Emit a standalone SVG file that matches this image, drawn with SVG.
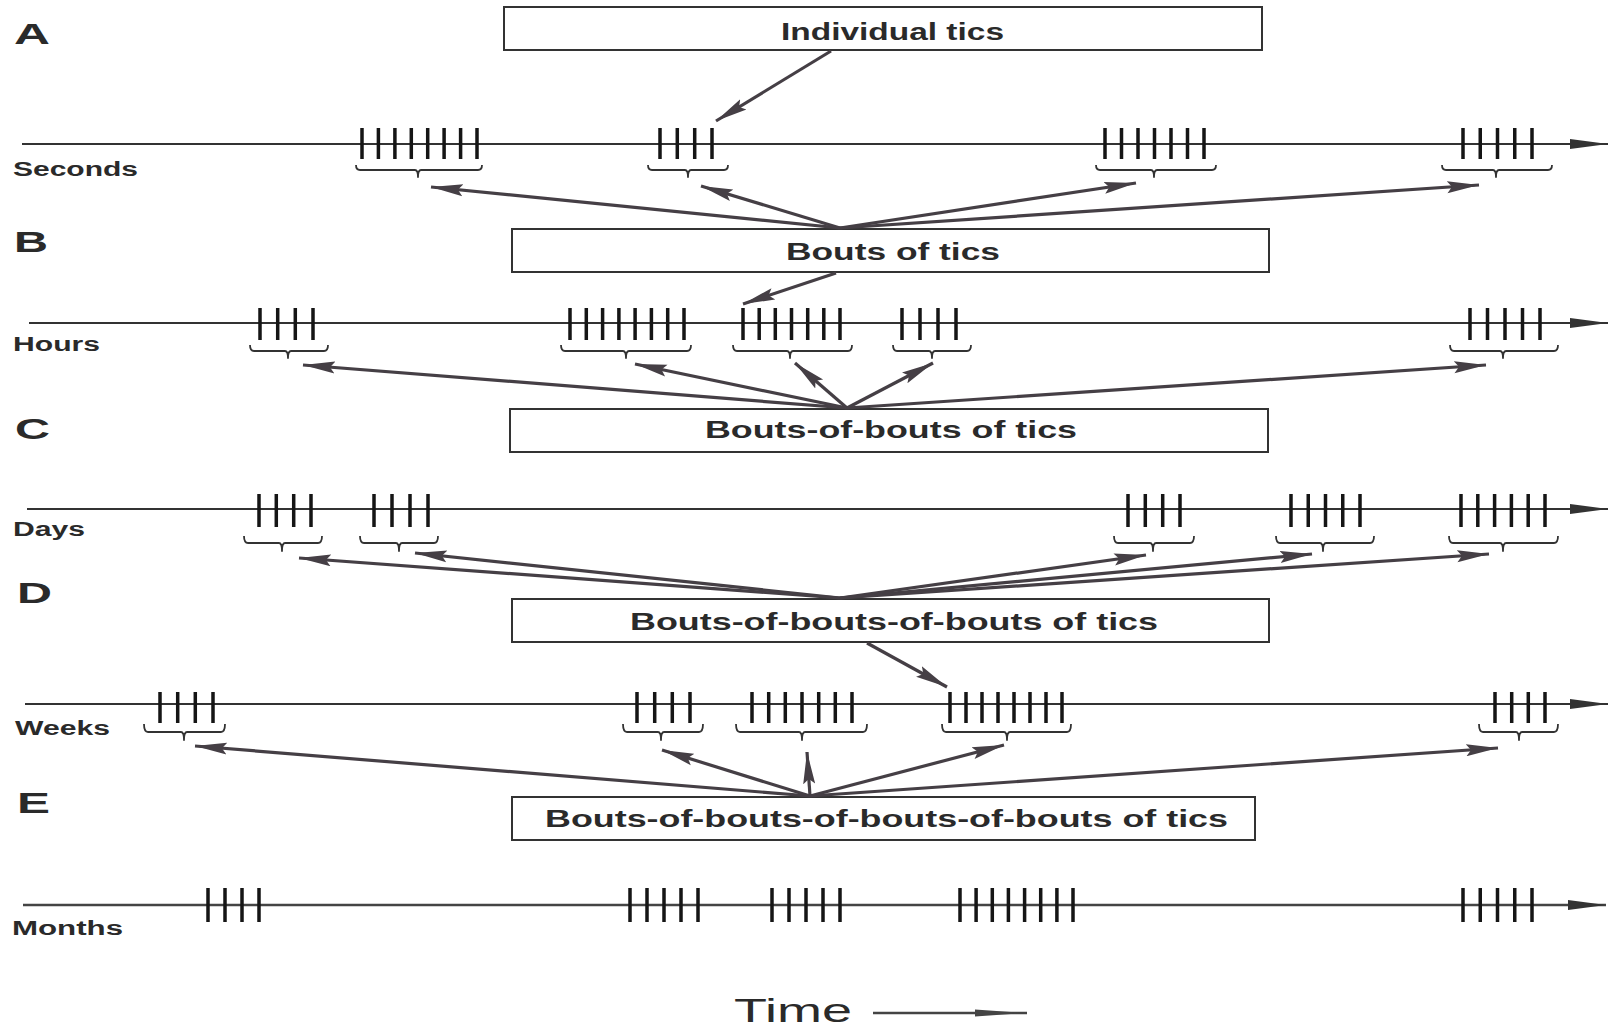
<svg xmlns="http://www.w3.org/2000/svg" width="1610" height="1031" viewBox="0 0 1610 1031">
<style>
.bg{fill:#ffffff}
.box{fill:#ffffff;stroke:#333;stroke-width:2}
.lbl{font-family:"Liberation Sans",Arial,sans-serif;font-weight:bold;fill:#2a2a2a}
.big{font-size:29px}
.ax{font-size:20px}
.bt{font-size:23px}
.axis{stroke:#333;stroke-width:2;fill:none}
.tic{stroke:#151515;stroke-width:3.5;fill:none}
.brace{stroke:#333;stroke-width:1.8;fill:none;stroke-linejoin:round}
.con{stroke:#453f45;stroke-width:3.2;fill:none;marker-end:url(#ah)}
</style>
<defs>
<marker id="ah" markerUnits="userSpaceOnUse" markerWidth="34" markerHeight="14" refX="32" refY="7" orient="auto">
<path d="M0,1 L32,7 L0,13 L5,7 Z" fill="#453f45"/>
</marker>
<marker id="axh" markerUnits="userSpaceOnUse" markerWidth="40" markerHeight="12" refX="38" refY="6" orient="auto">
<path d="M0,1 L38,6 L0,11 Z" fill="#333"/>
</marker>
<marker id="th" markerUnits="userSpaceOnUse" markerWidth="54" markerHeight="10" refX="52" refY="5" orient="auto">
<path d="M0,1.5 L52,5 L0,8.5 Z" fill="#444"/>
</marker>
</defs>
<rect class="bg" x="0" y="0" width="1610" height="1031"/>

<g id="panel-letters">
<text class="lbl big" x="14" y="44" textLength="36" lengthAdjust="spacingAndGlyphs">A</text>
<text class="lbl big" x="14" y="252" textLength="34" lengthAdjust="spacingAndGlyphs">B</text>
<text class="lbl big" x="15" y="439" textLength="35" lengthAdjust="spacingAndGlyphs">C</text>
<text class="lbl big" x="17" y="603" textLength="35" lengthAdjust="spacingAndGlyphs">D</text>
<text class="lbl big" x="17" y="813" textLength="33" lengthAdjust="spacingAndGlyphs">E</text>
</g>

<g id="node-individual">
<rect class="box" x="504" y="7" width="758" height="43"/>
<text class="lbl bt" x="781" y="40" textLength="223" lengthAdjust="spacingAndGlyphs">Individual tics</text>
</g>
<g id="node-bouts">
<rect class="box" x="512" y="229" width="757" height="43"/>
<text class="lbl bt" x="786" y="260" textLength="214" lengthAdjust="spacingAndGlyphs">Bouts of tics</text>
</g>
<g id="node-bouts2">
<rect class="box" x="510" y="409" width="758" height="43"/>
<text class="lbl bt" x="705" y="438" textLength="372" lengthAdjust="spacingAndGlyphs">Bouts-of-bouts of tics</text>
</g>
<g id="node-bouts3">
<rect class="box" x="512" y="599" width="757" height="43"/>
<text class="lbl bt" x="630" y="630" textLength="528" lengthAdjust="spacingAndGlyphs">Bouts-of-bouts-of-bouts of tics</text>
</g>
<g id="node-bouts4">
<rect class="box" x="512" y="797" width="743" height="43"/>
<text class="lbl bt" x="545" y="827" textLength="683" lengthAdjust="spacingAndGlyphs">Bouts-of-bouts-of-bouts-of-bouts of tics</text>
</g>

<g id="axis-seconds">
<line class="axis" x1="22" y1="144" x2="1608" y2="144" marker-end="url(#axh)"/>
<text class="lbl ax" x="13" y="176" textLength="125" lengthAdjust="spacingAndGlyphs">Seconds</text>
<path class="tic" d="M362,128v31M378.4,128v31M394.9,128v31M411.3,128v31M427.7,128v31M444.1,128v31M460.6,128v31M477,128v31
M660,128v31M677.3,128v31M694.7,128v31M712,128v31
M1105,128v31M1121.5,128v31M1138,128v31M1154.5,128v31M1171,128v31M1187.5,128v31M1204,128v31
M1463,128v31M1480.25,128v31M1497.5,128v31M1514.75,128v31M1532,128v31"/>
<path class="brace" d="M356,165Q356,170 360,170L415,170Q418,170 418,177Q418,170 421,170L478,170Q482,170 482,165
M648,165Q648,170 652,170L685,170Q688,170 688,177Q688,170 691,170L724,170Q728,170 728,165
M1096,165Q1096,170 1100,170L1151,170Q1154,170 1154,177Q1154,170 1157,170L1212,170Q1216,170 1216,165
M1442,165Q1442,170 1446,170L1493,170Q1496,170 1496,177Q1496,170 1499,170L1548,170Q1552,170 1552,165"/>
</g>

<g id="axis-hours">
<line class="axis" x1="29" y1="323" x2="1608" y2="323" marker-end="url(#axh)"/>
<text class="lbl ax" x="13" y="351" textLength="87" lengthAdjust="spacingAndGlyphs">Hours</text>
<path class="tic" d="M260,308v32M277.7,308v32M295.3,308v32M313,308v32
M570,308v32M586.3,308v32M602.6,308v32M618.9,308v32M635.1,308v32M651.4,308v32M667.7,308v32M684,308v32
M743,308v32M759.2,308v32M775.3,308v32M791.5,308v32M807.7,308v32M823.8,308v32M840,308v32
M902,308v32M920,308v32M938,308v32M956,308v32
M1470,308v32M1487.5,308v32M1505,308v32M1522.5,308v32M1540,308v32"/>
<path class="brace" d="M250,345Q250,351 254,351L285,351Q288,351 288,358Q288,351 291,351L324,351Q328,351 328,345
M561,345Q561,351 565,351L623,351Q626,351 626,358Q626,351 629,351L687,351Q691,351 691,345
M733,345Q733,351 737,351L787,351Q790,351 790,358Q790,351 793,351L848,351Q852,351 852,345
M893,345Q893,351 897,351L929,351Q932,351 932,358Q932,351 935,351L967,351Q971,351 971,345
M1450,345Q1450,351 1454,351L1500,351Q1503,351 1503,358Q1503,351 1506,351L1554,351Q1558,351 1558,345"/>
</g>

<g id="axis-days">
<line class="axis" x1="27" y1="509" x2="1608" y2="509" marker-end="url(#axh)"/>
<text class="lbl ax" x="13" y="536" textLength="72" lengthAdjust="spacingAndGlyphs">Days</text>
<path class="tic" d="M259,494v33M276.3,494v33M293.7,494v33M311,494v33
M374,494v33M392,494v33M410,494v33M428,494v33
M1128,494v33M1145.3,494v33M1162.7,494v33M1180,494v33
M1291,494v33M1308.25,494v33M1325.5,494v33M1342.75,494v33M1360,494v33
M1461,494v33M1477.8,494v33M1494.6,494v33M1511.4,494v33M1528.2,494v33M1545,494v33"/>
<path class="brace" d="M244,536Q244,543 248,543L279,543Q282,543 282,551Q282,543 285,543L318,543Q322,543 322,536
M360,536Q360,543 364,543L396,543Q399,543 399,551Q399,543 402,543L434,543Q438,543 438,536
M1114,536Q1114,543 1118,543L1150,543Q1153,543 1153,551Q1153,543 1156,543L1190,543Q1194,543 1194,536
M1276,536Q1276,543 1280,543L1320,543Q1323,543 1323,551Q1323,543 1326,543L1370,543Q1374,543 1374,536
M1449,536Q1449,543 1453,543L1500,543Q1503,543 1503,551Q1503,543 1506,543L1554,543Q1558,543 1558,536"/>
</g>

<g id="axis-weeks">
<line class="axis" x1="25" y1="704" x2="1608" y2="704" marker-end="url(#axh)"/>
<text class="lbl ax" x="15" y="735" textLength="95" lengthAdjust="spacingAndGlyphs">Weeks</text>
<path class="tic" d="M160,692v31M177.7,692v31M195.3,692v31M213,692v31
M637,692v31M654.7,692v31M672.3,692v31M690,692v31
M752,692v31M768.7,692v31M785.3,692v31M802,692v31M818.7,692v31M835.3,692v31M852,692v31
M950,692v31M966,692v31M982,692v31M998,692v31M1014,692v31M1030,692v31M1046,692v31M1062,692v31
M1495,692v31M1511.7,692v31M1528.3,692v31M1545,692v31"/>
<path class="brace" d="M144,724Q144,732 148,732L181,732Q184,732 184,740Q184,732 187,732L221,732Q225,732 225,724
M623,724Q623,732 627,732L658,732Q661,732 661,740Q661,732 664,732L699,732Q703,732 703,724
M736,724Q736,732 740,732L799,732Q802,732 802,740Q802,732 805,732L863,732Q867,732 867,724
M942,724Q942,732 946,732L1004,732Q1007,732 1007,740Q1007,732 1010,732L1067,732Q1071,732 1071,724
M1479,724Q1479,732 1483,732L1516,732Q1519,732 1519,740Q1519,732 1522,732L1554,732Q1558,732 1558,724"/>
</g>

<g id="axis-months">
<line class="axis" x1="23" y1="905" x2="1606" y2="905" style="stroke-width:2.5;stroke:#444" marker-end="url(#axh)"/>
<text class="lbl ax" x="12" y="935" textLength="111" lengthAdjust="spacingAndGlyphs">Months</text>
<path class="tic" d="M208,888v34M225,888v34M242,888v34M259,888v34
M630,888v34M647,888v34M664,888v34M681,888v34M698,888v34
M772,888v34M789,888v34M806,888v34M823,888v34M840,888v34
M960,888v34M976.1,888v34M992.3,888v34M1008.4,888v34M1024.6,888v34M1040.7,888v34M1056.9,888v34M1073,888v34
M1463,888v34M1480.25,888v34M1497.5,888v34M1514.75,888v34M1532,888v34"/>
</g>

<g id="connectors">
<line class="con" x1="831" y1="51" x2="716" y2="121"/>
<line class="con" x1="840" y1="228" x2="431" y2="187"/>
<line class="con" x1="840" y1="228" x2="701" y2="186"/>
<line class="con" x1="840" y1="228" x2="1136" y2="183"/>
<line class="con" x1="840" y1="228" x2="1479" y2="185"/>
<line class="con" x1="836" y1="273" x2="743" y2="304"/>
<line class="con" x1="847" y1="408" x2="303" y2="365"/>
<line class="con" x1="847" y1="408" x2="635" y2="364"/>
<line class="con" x1="847" y1="408" x2="795" y2="363"/>
<line class="con" x1="847" y1="408" x2="933" y2="363"/>
<line class="con" x1="847" y1="408" x2="1486" y2="365"/>
<line class="con" x1="840" y1="598" x2="299" y2="558"/>
<line class="con" x1="840" y1="598" x2="415" y2="553"/>
<line class="con" x1="840" y1="598" x2="1146" y2="555"/>
<line class="con" x1="840" y1="598" x2="1312" y2="554"/>
<line class="con" x1="840" y1="598" x2="1489" y2="554"/>
<line class="con" x1="867" y1="643" x2="947" y2="687"/>
<line class="con" x1="810" y1="796" x2="195" y2="746"/>
<line class="con" x1="810" y1="796" x2="662" y2="750"/>
<line class="con" x1="810" y1="796" x2="807" y2="752"/>
<line class="con" x1="810" y1="796" x2="1004" y2="745"/>
<line class="con" x1="810" y1="796" x2="1498" y2="748"/>
</g>

<g id="time-label">
<text x="734" y="1022" font-family="Liberation Sans, Arial, sans-serif" font-size="34" fill="#2a2a2a" textLength="118" lengthAdjust="spacingAndGlyphs">Time</text>
<line x1="873" y1="1013" x2="1027" y2="1013" stroke="#444" stroke-width="2.5" marker-end="url(#th)"/>
</g>
</svg>
